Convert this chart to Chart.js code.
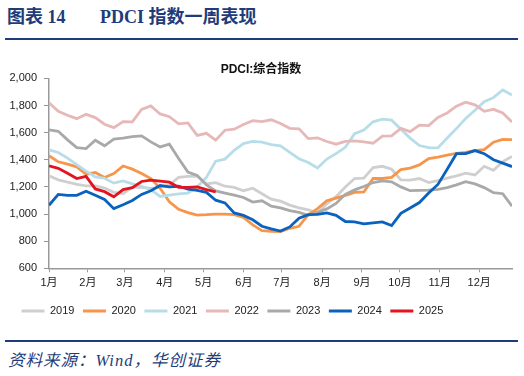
<!DOCTYPE html>
<html>
<head>
<meta charset="utf-8">
<script src="https://cdn.jsdelivr.net/npm/chart.js@4/dist/chart.umd.min.js"></script>
<style>
  html, body { margin: 0; padding: 0; background: #fff; }
  body { width: 524px; height: 376px; position: relative; overflow: hidden; }
  .hdr { position: absolute; top: 7px; font: bold 18px "Liberation Serif", "Noto Sans CJK SC", serif; color: #1F3C78; line-height: 20px; white-space: nowrap; }
  .rule { position: absolute; left: 5px; width: 513px; height: 2px; background: #1F3C78; }
  .src { position: absolute; left: 8px; top: 351px; font: italic 16.5px "Liberation Serif", "Noto Sans CJK SC", serif; color: #1F3C78; line-height: 20px; white-space: nowrap; letter-spacing: 1px; }
  #wrap { position: absolute; left: 0; top: 45px; width: 524px; height: 285px; }
</style>
</head>
<body>
<div class="hdr" style="left:7px">图表 14</div>
<div class="hdr" style="left:100px">PDCI 指数一周表现</div>
<div class="rule" style="top:38px"></div>
<div id="wrap"><canvas id="c" width="524" height="285"></canvas></div>
<div class="rule" style="top:340px"></div>
<div class="src">资料来源：Wind，华创证券</div>
<script>
// ---- data (weekly PDCI readings, 51 weeks per year) ----
const months = ['1月','2月','3月','4月','5月','6月','7月','8月','9月','10月','11月','12月'];
const monthTickWeek = [0, 4.2, 8.2, 12.5, 16.7, 21.05, 25.15, 29.5, 33.8, 37.9, 42.2, 46.45];
const years = ['2019','2020','2021','2022','2023','2024','2025'];

const s2019 = [1282,1252,1236,1218,1207,1207,1192,1160,1152,1197,1197,1190,1198,1215,1270,1278,1280,1222,1232,1205,1196,1172,1190,1150,1110,1095,1066,1045,1030,1008,1075,1128,1200,1262,1265,1342,1352,1330,1252,1250,1262,1232,1246,1265,1282,1302,1288,1352,1322,1386,1425];
const s2020 = [1430,1385,1368,1348,1294,1306,1270,1299,1354,1331,1299,1262,1190,1090,1035,1010,992,995,1000,1000,995,975,920,878,873,870,895,910,995,1040,1098,1118,1138,1160,1163,1262,1262,1270,1328,1338,1362,1408,1420,1435,1447,1455,1468,1475,1530,1550,1548];
const s2021 = [1473,1454,1412,1365,1316,1274,1264,1228,1244,1222,1205,1180,1130,1140,1148,1155,1200,1270,1390,1405,1470,1520,1535,1530,1512,1503,1455,1408,1380,1340,1405,1445,1492,1592,1620,1680,1700,1692,1625,1560,1505,1490,1488,1560,1630,1705,1765,1828,1858,1915,1877];
const s2022 = [1820,1758,1728,1703,1735,1711,1662,1637,1681,1679,1772,1797,1738,1718,1665,1672,1580,1595,1545,1618,1626,1660,1688,1682,1695,1668,1632,1628,1556,1562,1535,1515,1535,1540,1532,1522,1575,1577,1632,1608,1655,1652,1712,1745,1795,1825,1805,1757,1772,1745,1678];
const s2023 = [1620,1610,1547,1490,1483,1544,1503,1552,1559,1571,1576,1532,1495,1515,1410,1310,1285,1215,1170,1155,1140,1122,1088,1098,1058,1045,1025,1012,990,1012,1038,1078,1145,1178,1203,1232,1245,1238,1200,1172,1175,1177,1182,1195,1215,1238,1222,1195,1158,1150,1058];
const s2024 = [1065,1145,1137,1138,1168,1138,1108,1040,1068,1100,1145,1172,1210,1200,1205,1183,1175,1160,1102,1082,1008,990,958,910,890,875,905,970,995,997,1008,990,945,943,928,935,942,915,1005,1045,1085,1155,1218,1330,1445,1445,1468,1445,1400,1375,1350];
const s2025 = [1355,1337,1301,1262,1278,1185,1165,1127,1180,1195,1240,1250,1242,1235,1197,1197,1200,1180,1163];

const seriesValues = [s2019, s2020, s2021, s2022, s2023, s2024, s2025];
const seriesColors = ['#CFCFCF', '#F7964A', '#B7DDE8', '#E6B9B8', '#A9A9A9', '#0A62BF', '#E3141F'];

const yMin = 600, yMax = 2000, yStep = 200;

const datasets = years.map((y, k) => ({
  label: y,
  data: seriesValues[k].map((v, i) => ({ x: i, y: v })),
  borderColor: seriesColors[k],
  backgroundColor: seriesColors[k],
  borderWidth: 2.8,
  pointRadius: 0,
  tension: 0,
  order: years.length - k
}));

const latin = '"Liberation Sans", Arial, "Noto Sans CJK SC", sans-serif';

const boxShift = {
  id: 'boxShift',
  afterUpdate(chart) {
    if (chart.legend) chart.legend.left = 13;
    if (chart.titleBlock) chart.titleBlock.left = 10;
  }
};

new Chart(document.getElementById('c'), {
  type: 'line',
  data: { datasets },
  plugins: [boxShift],
  options: {
    responsive: false,
    animation: false,
    events: [],
    layout: { padding: { left: 0, right: 12, top: 0, bottom: 3.5 } },
    plugins: {
      title: {
        display: true,
        text: 'PDCI:综合指数',
        color: '#111',
        font: { family: latin, size: 12, weight: 'bold' },
        padding: { top: 17, bottom: 2 }
      },
      legend: {
        position: 'bottom',
        align: 'start',
        labels: {
          boxWidth: 23,
          boxHeight: 3,
          padding: 8.5,
          color: '#222',
          font: { family: latin, size: 11 },
          sort: (a, b) => a.datasetIndex - b.datasetIndex,
          generateLabels: (chart) => Chart.defaults.plugins.legend.labels.generateLabels(chart)
            .map(l => Object.assign(l, { fillStyle: l.strokeStyle, lineWidth: 0 }))
        }
      },
      tooltip: { enabled: false }
    },
    scales: {
      x: {
        type: 'linear',
        min: 0,
        max: s2019.length - 1,
        afterBuildTicks: (axis) => { axis.ticks = monthTickWeek.map(v => ({ value: v })); },
        afterFit: (axis) => { axis.height = 28.7; },
        ticks: {
          autoSkip: false,
          maxRotation: 0,
          padding: 4,
          color: '#222',
          font: { family: latin, size: 11 },
          callback: (v, i) => months[i]
        },
        grid: { drawOnChartArea: false, drawTicks: true, tickLength: 4, color: '#999', tickWidth: 1 },
        border: { display: true, color: '#999', width: 1.5 }
      },
      y: {
        min: yMin,
        max: yMax,
        afterFit: (axis) => { axis.width = 49; },
        ticks: {
          stepSize: yStep,
          padding: 7,
          color: '#222',
          font: { family: latin, size: 11 },
          callback: (v) => v.toLocaleString('en-US')
        },
        grid: { drawOnChartArea: false, drawTicks: true, tickLength: 5, color: '#999' },
        border: { display: true, color: '#999', width: 1.5 }
      }
    }
  }
});
</script>
</body>
</html>
